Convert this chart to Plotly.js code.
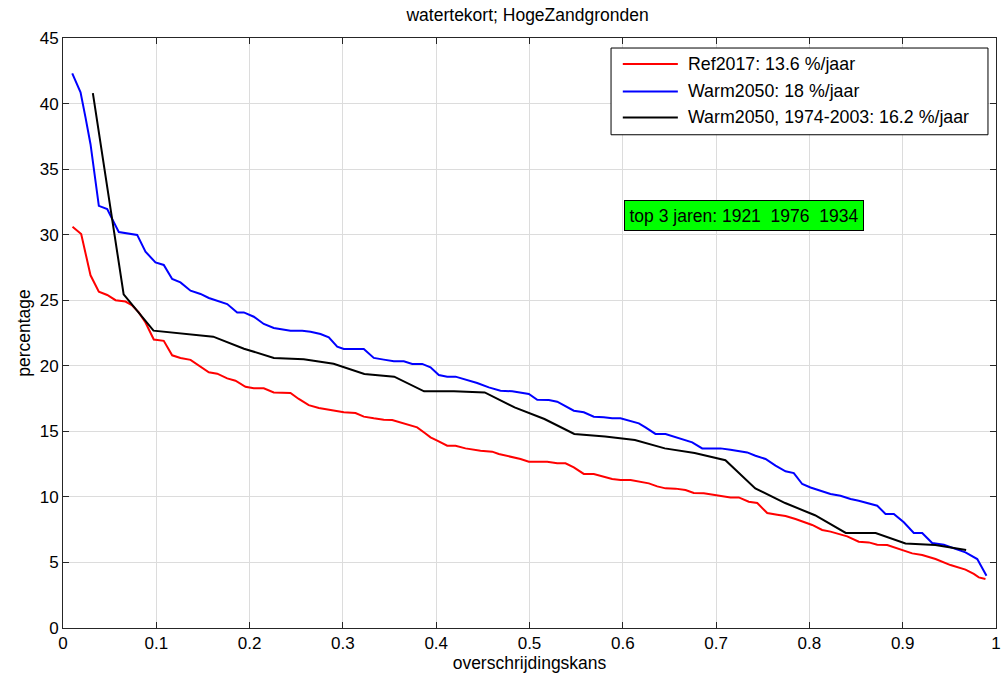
<!DOCTYPE html>
<html>
<head>
<meta charset="utf-8">
<script src="https://cdn.plot.ly/plotly-3.0.1.min.js"></script>
<style>
  html, body { margin: 0; padding: 0; background: #ffffff; }
  #chart { width: 1004px; height: 680px; }
</style>
</head>
<body>
<div id="chart"></div>
<script>
// Exceedance curves of the water deficit (% per year), Hoge Zandgronden
const refX = [0.0102,0.0195,0.0295,0.0384,0.0474,0.0563,0.0670,0.0742,0.0812,0.0884,0.0973,0.1080,0.1170,0.1259,0.1367,0.1455,0.1563,0.1653,0.1760,0.1849,0.1956,0.2045,0.2152,0.2259,0.2438,0.2527,0.2634,0.2742,0.2867,0.3010,0.3135,0.3224,0.3331,0.3438,0.3528,0.3653,0.3796,0.3885,0.3939,0.4011,0.4118,0.4207,0.4314,0.4475,0.4600,0.4671,0.4796,0.4904,0.4993,0.5190,0.5297,0.5386,0.5475,0.5582,0.5689,0.5779,0.5886,0.5975,0.6083,0.6279,0.6369,0.6458,0.6565,0.6672,0.6761,0.6868,0.7047,0.7154,0.7243,0.7350,0.7441,0.7548,0.7655,0.7744,0.7851,0.7940,0.8030,0.8137,0.8226,0.8405,0.8529,0.8637,0.8727,0.8834,0.8976,0.9102,0.9209,0.9352,0.9512,0.9673,0.9762,0.9816,0.9887];
const refY = [30.6,30.05,26.9,25.65,25.4,25.0,24.9,24.6,24.07,23.3,22.0,21.9,20.8,20.6,20.45,20.0,19.5,19.4,19.04,18.86,18.4,18.28,18.28,17.97,17.93,17.47,17.0,16.78,16.63,16.45,16.4,16.12,15.99,15.89,15.87,15.6,15.3,14.84,14.54,14.29,13.9,13.9,13.7,13.52,13.45,13.27,13.09,12.89,12.68,12.68,12.56,12.56,12.25,11.75,11.75,11.56,11.37,11.29,11.29,11.03,10.8,10.65,10.63,10.53,10.3,10.27,10.09,9.96,9.96,9.63,9.53,8.77,8.64,8.54,8.31,8.11,7.86,7.48,7.35,6.99,6.58,6.53,6.35,6.33,6.0,5.69,5.57,5.26,4.8,4.45,4.12,3.86,3.74];

const warmX = [0.0099,0.0188,0.0241,0.0295,0.0384,0.0474,0.0509,0.0598,0.0795,0.0884,0.0991,0.1080,0.1170,0.1259,0.1367,0.1474,0.1563,0.1653,0.1760,0.1867,0.1938,0.2045,0.2152,0.2259,0.2367,0.2438,0.2564,0.2653,0.2760,0.2849,0.2939,0.3010,0.3224,0.3331,0.3438,0.3546,0.3653,0.3743,0.3850,0.3939,0.4028,0.4118,0.4207,0.4314,0.4439,0.4564,0.4689,0.4815,0.4922,0.4993,0.5083,0.5207,0.5297,0.5386,0.5475,0.5582,0.5689,0.5796,0.5886,0.5975,0.6083,0.6172,0.6243,0.6350,0.6458,0.6547,0.6654,0.6744,0.6851,0.7047,0.7154,0.7243,0.7333,0.7422,0.7530,0.7637,0.7744,0.7833,0.7923,0.8012,0.8119,0.8226,0.8333,0.8441,0.8529,0.8637,0.8727,0.8816,0.8905,0.9012,0.9119,0.9209,0.9316,0.9441,0.9548,0.9673,0.9799,0.9853,0.9898];
const warmY = [42.3,40.85,38.95,36.9,32.2,31.96,31.45,30.2,29.98,28.7,27.89,27.69,26.62,26.36,25.73,25.48,25.17,24.97,24.71,24.07,24.07,23.74,23.19,22.88,22.73,22.68,22.68,22.6,22.42,22.17,21.46,21.28,21.28,20.6,20.47,20.34,20.34,20.14,20.14,19.88,19.3,19.17,19.17,18.94,18.69,18.35,18.1,18.05,17.93,17.85,17.41,17.39,17.26,16.9,16.57,16.45,16.12,16.07,15.99,15.99,15.81,15.61,15.3,14.8,14.8,14.59,14.36,14.16,13.7,13.7,13.6,13.52,13.39,13.14,12.89,12.38,11.95,11.82,10.98,10.72,10.47,10.22,10.09,9.84,9.71,9.5,9.33,8.7,8.7,8.06,7.25,7.25,6.48,6.35,6.1,5.77,5.26,4.62,3.99];

const warm30X = [0.032,0.065,0.097,0.129,0.161,0.194,0.226,0.258,0.290,0.323,0.355,0.387,0.419,0.452,0.484,0.516,0.548,0.581,0.613,0.645,0.677,0.710,0.742,0.774,0.806,0.839,0.871,0.903,0.935,0.968];
const warm30Y = [40.8,25.45,22.68,22.45,22.22,21.3,20.6,20.5,20.15,19.37,19.17,18.05,18.05,17.97,16.83,15.94,14.8,14.6,14.34,13.7,13.35,12.8,10.65,9.53,8.6,7.25,7.25,6.45,6.33,5.95];

const seriesNames = ['Ref2017: 13.6 %/jaar', 'Warm2050: 18 %/jaar', 'Warm2050, 1974-2003: 16.2 %/jaar'];
const seriesColors = ['#ff0000', '#0000ff', '#000000'];
const xTicks = [0,0.1,0.2,0.3,0.4,0.5,0.6,0.7,0.8,0.9,1];
const xTickText = ['0','0.1','0.2','0.3','0.4','0.5','0.6','0.7','0.8','0.9','1'];
const yTicks = [0,5,10,15,20,25,30,35,40,45];
const topYears = ['1921', '1976', '1934'];

const FONT = 'Arial, "Liberation Sans", Helvetica, sans-serif';
const AX = '#262626';

const xs = [refX, warmX, warm30X];
const ys = [refY, warmY, warm30Y];
const traces = xs.map((x, k) => ({
  x: x, y: ys[k], type: 'scatter', mode: 'lines', name: seriesNames[k],
  line: { color: seriesColors[k], width: 2 }, hoverinfo: 'x+y'
}));

// legend drawn as a boxed block in the upper right of the axes
const legBox = { x0: 0.5874, x1: 0.9914, y0: 0.836, y1: 0.983 };
const rowY = [0.956, 0.9095, 0.8654];
const shapes = [{
  type: 'rect', xref: 'paper', yref: 'paper',
  x0: legBox.x0, x1: legBox.x1, y0: legBox.y0, y1: legBox.y1,
  line: { color: '#000000', width: 1 }, fillcolor: '#ffffff', layer: 'above'
}];
const annotations = [];
seriesNames.forEach((name, k) => {
  shapes.push({
    type: 'line', xref: 'paper', yref: 'paper',
    x0: 0.600, x1: 0.659, y0: rowY[k], y1: rowY[k],
    line: { color: seriesColors[k], width: 2 }, layer: 'above'
  });
  annotations.push({
    xref: 'paper', yref: 'paper', x: 0.6677, y: rowY[k],
    xanchor: 'left', yanchor: 'middle', showarrow: false,
    text: name, font: { family: FONT, size: 17.8, color: '#000000' }
  });
});
annotations.push({
  xref: 'paper', yref: 'paper', x: 0.7294, y: 0.6988,
  xanchor: 'center', yanchor: 'middle', showarrow: false,
  text: 'top 3 jaren: ' + topYears.join('\u00a0\u00a0'),
  font: { family: FONT, size: 17.5, color: '#000000' },
  bgcolor: '#00ff00', bordercolor: '#000000', borderwidth: 1, borderpad: 4.5
});

const axisCommon = {
  showline: true, linecolor: AX, linewidth: 1, mirror: 'ticks',
  ticks: 'inside', ticklen: 6, tickwidth: 1, tickcolor: AX,
  showgrid: true, gridcolor: '#dcdcdc', gridwidth: 1, zeroline: false,
  tickfont: { family: FONT, size: 17, color: '#000000' }
};

const layout = {
  width: 1004, height: 680,
  margin: { l: 63, r: 8, t: 38, b: 52, pad: 0 },
  paper_bgcolor: '#ffffff', plot_bgcolor: '#ffffff',
  showlegend: false,
  title: { text: 'watertekort; HogeZandgronden', x: 0.5255, xanchor: 'center', y: 0.978, yanchor: 'middle',
           font: { family: FONT, size: 17.5, color: '#000000' } },
  xaxis: Object.assign({}, axisCommon, {
    range: [0, 1], tickvals: xTicks, ticktext: xTickText,
    title: { text: 'overschrijdingskans', standoff: 2, font: { family: FONT, size: 17.5, color: '#000000' } }
  }),
  yaxis: Object.assign({}, axisCommon, {
    range: [0, 45], tickvals: yTicks,
    title: { text: 'percentage', standoff: 4, font: { family: FONT, size: 17.5, color: '#000000' } }
  }),
  shapes: shapes,
  annotations: annotations
};

Plotly.newPlot('chart', traces, layout, { displayModeBar: false, staticPlot: true });
</script>
</body>
</html>
